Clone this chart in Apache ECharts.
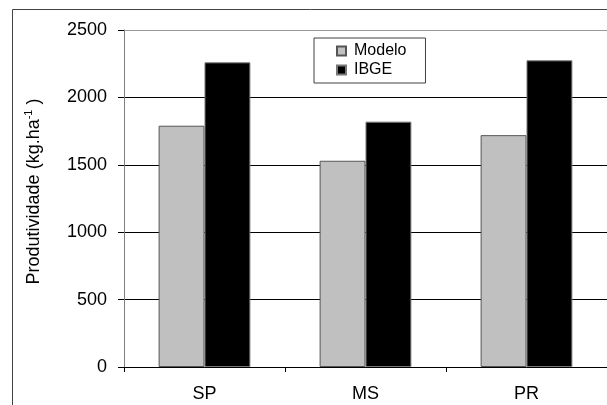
<!DOCTYPE html>
<html>
<head>
<meta charset="utf-8">
<script src="https://cdn.jsdelivr.net/npm/echarts@6/dist/echarts.min.js"></script>
<style>
html,body{margin:0;padding:0;background:#fff;}
#chart{width:607px;height:405px;}
</style>
</head>
<body>
<div id="chart"></div>
<script>
const categories = ['SP', 'MS', 'PR'];
const modelo = [1790, 1530, 1720];
const ibge = [2260, 1820, 2275];
const seriesNames = ['Modelo', 'IBGE'];
const yTicks = { min: 0, max: 2500, interval: 500 };

const chart = echarts.init(document.getElementById('chart'), null, { renderer: 'canvas' });
const font = 'Liberation Sans, Arial, sans-serif';

chart.setOption({
  animation: false,
  backgroundColor: '#fff',
  textStyle: { fontFamily: font },
  graphic: [{
    type: 'rect',
    shape: { x: 12.5, y: 9.5, width: 700, height: 500 },
    style: { fill: 'none', stroke: '#444', lineWidth: 1 },
    z: -10
  }],
  grid: { left: 124, top: 30, width: 490, height: 337, containLabel: false },
  legend: {
    orient: 'vertical',
    left: 314,
    top: 38,
    padding: [4, 19, 4, 22],
    itemGap: 1,
    itemWidth: 9,
    itemHeight: 9,
    borderColor: '#404040',
    borderWidth: 1,
    icon: 'rect',
    textStyle: { fontFamily: font, fontSize: 16, color: '#000', lineHeight: 18, padding: [0, 0, 0, 3] },
    data: seriesNames
  },
  xAxis: {
    type: 'category',
    data: categories,
    axisLine: { lineStyle: { color: '#000', width: 1 } },
    axisTick: { show: true, length: 5, lineStyle: { color: '#000' } },
    axisLabel: { fontFamily: font, fontSize: 18, color: '#000', margin: 18 },
    splitLine: { show: false }
  },
  yAxis: {
    type: 'value',
    min: yTicks.min,
    max: yTicks.max,
    interval: yTicks.interval,
    name: '{a|Produtividade (kg.ha}{s|-1}{a| )}',
    nameLocation: 'middle',
    nameGap: 79,
    nameTextStyle: {
      padding: [0, 0, 0, 14],
      rich: {
        a: { fontFamily: font, fontSize: 18, color: '#000', lineHeight: 22 },
        s: { fontFamily: font, fontSize: 11, color: '#000', verticalAlign: 'top', lineHeight: 22, padding: [0, 0, 8, 0] }
      }
    },
    axisLine: { show: true, lineStyle: { color: '#808080', width: 1 } },
    axisTick: { show: true, length: 6, lineStyle: { color: '#000' } },
    axisLabel: { fontFamily: font, fontSize: 18, color: '#000', margin: 17, formatter: v => String(v) },
    splitLine: { show: true, lineStyle: { color: ['#000', '#000', '#000', '#000', '#000', '#999'], width: 1 } }
  },
  series: [
    {
      name: seriesNames[0], type: 'bar', data: modelo,
      barGap: 0, barCategoryGap: '43%',
      itemStyle: { color: '#c0c0c0', borderColor: '#555', borderWidth: 1 }
    },
    {
      name: seriesNames[1], type: 'bar', data: ibge,
      barGap: 0, barCategoryGap: '43%',
      itemStyle: { color: '#000', borderColor: '#777', borderWidth: 1 }
    }
  ]
});
</script>
</body>
</html>
